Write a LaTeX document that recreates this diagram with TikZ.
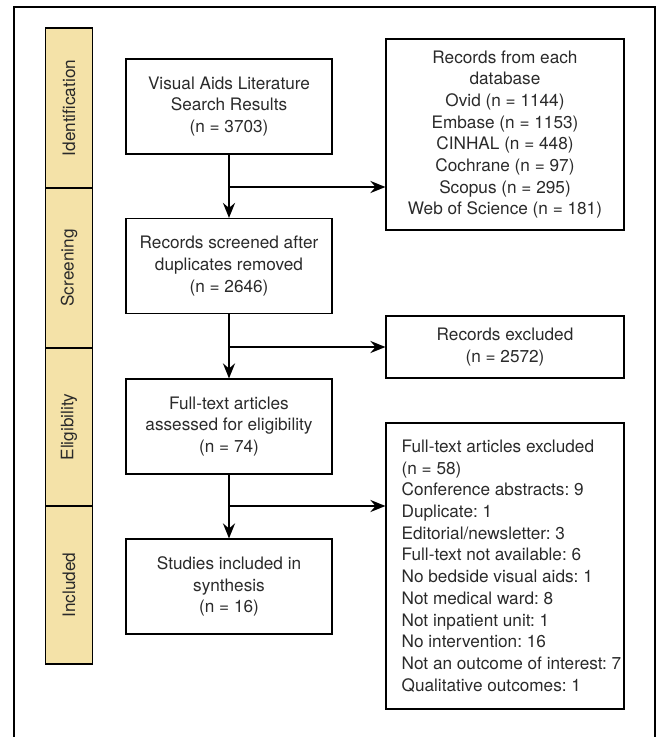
\documentclass[tikz,border=0pt]{standalone}
\usepackage{fontspec}
\setmainfont{TeX Gyre Heros}
\usetikzlibrary{arrows.meta}
\definecolor{tan}{HTML}{F4E2A8}
\definecolor{txt}{HTML}{2A2A2A}
\tikzset{
  txtfont/.style={font=\fontsize{17.2}{21.7}\selectfont\frenchspacing},
  box/.style={draw=black, line width=1.1pt, minimum width=206pt, minimum height=95pt, inner sep=0pt, align=center, text=txt, txtfont},
  rbox/.style={box, minimum width=238pt},
  side/.style={draw=black, line width=1.1pt, fill=tan, minimum height=46.6pt, inner sep=0pt, rotate=90, text=txt, txtfont},
  arr/.style={line width=2.4pt, -{Stealth[length=15pt,width=12pt,inset=5pt]}}
}
\begin{document}
\begin{tikzpicture}[x=1pt,y=-1pt]
\useasboundingbox (0,0) rectangle (660,737);
\clip (0,0) rectangle (660,737);
\draw[line width=1.4pt] (14,7) rectangle (655,780);
% side bars
\node[side, minimum width=160pt] (sid) at (69,108) {Identification};
\node[side, minimum width=160pt] (sscr) at (69,268) {Screening};
\node[side, minimum width=158pt] (selig) at (69,427) {Eligibility};
\node[side, minimum width=158pt] (sinc) at (69,585) {Included};
% left boxes
\node[box] (b1) at (229,106.5) {Visual Aids Literature\\Search Results\\(n = 3703)};
\node[box] (b2) at (229,266) {Records screened after\\duplicates removed\\(n = 2646)};
\node[box] (b3) at (229,426.5) {Full-text articles\\assessed for eligibility\\(n = 74)};
\node[box] (b4) at (229,586.5) {Studies included in\\synthesis\\(n = 16)};
% right boxes
\node[rbox, minimum height=191pt] (r1) at (505,134.5) {Records from each\\database\\Ovid (n = 1144)\\Embase (n = 1153)\\CINHAL (n = 448)\\Cochrane (n = 97)\\Scopus (n = 295)\\Web of Science (n = 181)};
\node[rbox, minimum height=62pt] (r2) at (505,347) {Records excluded\\(n = 2572)};
\node[rbox, minimum height=286pt] (r3) at (505,566) {};
\node[anchor=west, align=left, inner sep=0pt, text=txt, txtfont] (r3t) at ([xshift=16pt]r3.west) {Full-text articles excluded\\(n = 58)\\Conference abstracts: 9\\Duplicate: 1\\Editorial/newsletter: 3\\Full-text not available: 6\\No bedside visual aids: 1\\Not medical ward: 8\\Not inpatient unit: 1\\No intervention: 16\\Not an outcome of interest: 7\\Qualitative outcomes: 1};
% junctions
\coordinate (j1) at (229,187);
\coordinate (j2) at (229,347);
\coordinate (j3) at (229,506);
\draw[arr] (b1.south) -- (b2.north);
\draw[arr] (j1) -- (j1 -| r1.west);
\draw[arr] (b2.south) -- (b3.north);
\draw[arr] (j2) -- (r2.west);
\draw[arr] (b3.south) -- (b4.north);
\draw[arr] (j3) -- (j3 -| r3.west);
\end{tikzpicture}
\end{document}
